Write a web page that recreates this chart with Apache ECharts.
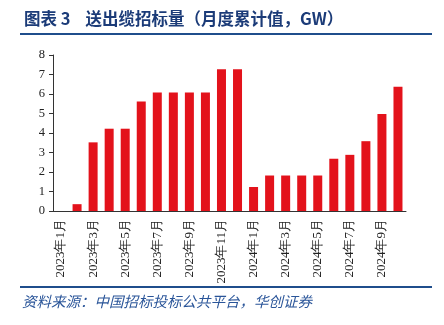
<!DOCTYPE html>
<html><head><meta charset="utf-8">
<script src="https://cdn.jsdelivr.net/npm/echarts@6/dist/echarts.min.js"></script>
<style>html,body{margin:0;padding:0;background:#fff}#c{width:444px;height:325px}</style>
</head><body><div id="c"></div>
<script>
const categories = ['2023年1月','2023年2月','2023年3月','2023年4月','2023年5月','2023年6月','2023年7月','2023年8月','2023年9月','2023年10月','2023年11月','2023年12月','2024年1月','2024年2月','2024年3月','2024年4月','2024年5月','2024年6月','2024年7月','2024年8月','2024年9月','2024年10月'];
const values = [0, 0.35, 3.52, 4.22, 4.22, 5.62, 6.08, 6.08, 6.08, 6.08, 7.27, 7.27, 1.23, 1.82, 1.82, 1.82, 1.82, 2.68, 2.88, 3.58, 4.98, 6.37];
const titleText = '图表 3    送出缆招标量（月度累计值，GW）';
const sourceText = '资料来源：中国招标投标公共平台，华创证券';

const chart = echarts.init(document.getElementById('c'), null, {renderer:'canvas'});
chart.setOption({
  animation: false,
  title: {
    text: titleText, left: 19, top: 5,
    textStyle: {color:'#1B3B78', fontSize:16.5, fontWeight:'bold', fontFamily:'Noto Sans CJK SC'}
  },
  graphic: [
    {type:'line', shape:{x1:20,y1:34,x2:432,y2:34}, style:{stroke:'#1F4E8C', lineWidth:2}},
    {type:'line', shape:{x1:20,y1:287,x2:432,y2:287}, style:{stroke:'#1F4E8C', lineWidth:2}},
    {type:'text', left:22, top:294, style:{text:sourceText, fill:'#2A5599', fontSize:14.5, fontStyle:'italic', fontFamily:'Noto Sans CJK SC'}}
  ],
  grid: {left:53, right:38, top:55, bottom:114},
  xAxis: {
    type:'category', data: categories, boundaryGap:true,
    axisLine:{lineStyle:{color:'#333', width:1}},
    axisTick:{interval:1, length:4, lineStyle:{color:'#333'}},
    axisLabel:{interval:1, rotate:90, fontSize:13, color:'#222', fontFamily:'Liberation Serif', margin:8}
  },
  yAxis: {
    type:'value', min:0, max:8, interval:1,
    splitLine:{show:false},
    axisLine:{show:true, lineStyle:{color:'#333'}},
    axisTick:{show:true, length:4, lineStyle:{color:'#333'}},
    axisLabel:{fontSize:12.5, color:'#222', fontFamily:'Liberation Serif', margin:8}
  },
  series: [{
    type:'bar', data: values, barWidth:9,
    itemStyle:{color:'#E3121B'}
  }]
});
</script></body></html>
